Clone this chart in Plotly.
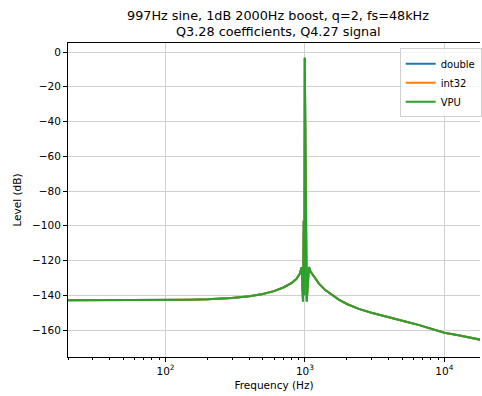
import math
import plotly.graph_objects as go

# ---- data ----
freq_hz = [20, 30, 50, 70, 100, 150, 200, 250, 300, 400, 500, 600, 700, 800, 870, 920,
           947, 968, 980, 990, 997, 1030, 1068, 1100, 1150, 1260, 1400, 1600, 1750, 2000,
           2430, 3000, 3380, 4000, 4690, 5500, 6510, 8070, 10000, 12600, 15000, 18000, 24000]
level_db = [-142.8, -142.8, -142.7, -142.7, -142.6, -142.5, -142.3, -142.0, -141.5, -140.5,
            -139.2, -137.6, -135.5, -133.0, -130.5, -127.5,
            -123.8, -143.5, -97.0, -140.0, -3.3, -143.5, -123.8, -126.5, -128.8, -133.3,
            -137.0, -140.5, -142.5, -145.0,
            -147.8, -150.0, -151.0, -152.5, -154.0, -155.5, -157.0, -159.3, -161.5, -163.0,
            -164.2, -165.5, -167.5]

series_names = ["double", "int32", "VPU"]
series_colors = ["#1f77b4", "#ff7f0e", "#2ca02c"]

x_major = [100, 1000, 10000]
x_major_text = ["10<sup>2</sup>", "10<sup>3</sup>", "10<sup>4</sup>"]
x_minor = [20, 30, 40, 50, 60, 70, 80, 90,
           200, 300, 400, 500, 600, 700, 800, 900,
           2000, 3000, 4000, 5000, 6000, 7000, 8000, 9000, 20000]
y_ticks = [0, -20, -40, -60, -80, -100, -120, -140, -160]

title_lines = ["997Hz sine, 1dB 2000Hz boost, q=2, fs=48kHz", "Q3.28 coefficients, Q4.27 signal"]

FONT = "DejaVu Sans"

fig = go.Figure()
for name, color in zip(series_names, series_colors):
    fig.add_trace(go.Scatter(x=freq_hz, y=level_db, mode="lines", name=name,
                             line=dict(color=color, width=2)))

# title lines as centred annotations above the axes
for text, ypos in zip(title_lines, [1.089, 1.038]):
    fig.add_annotation(text=text, xref="paper", yref="paper", x=0.51, y=ypos,
                       xanchor="center", yanchor="middle", showarrow=False,
                       font=dict(family=FONT, size=12.8, color="black"))

fig.update_layout(
    width=482, height=396,
    margin=dict(l=68, r=0, t=43, b=39),
    paper_bgcolor="white", plot_bgcolor="white",
    font=dict(family=FONT, size=10, color="black"),
    legend=dict(x=0.805, y=0.983, xanchor="left", yanchor="top",
                bgcolor="rgba(255,255,255,0.8)", bordercolor="#d0d0d0", borderwidth=1,
                font=dict(family=FONT, size=10, color="black"),
                tracegroupgap=0, itemwidth=30),
    showlegend=True,
)

fig.update_xaxes(
    type="log", range=[math.log10(20), math.log10(18000)],
    tickmode="array", tickvals=x_major, ticktext=x_major_text,
    ticks="outside", ticklen=4, tickcolor="black", tickwidth=1,
    showline=True, linecolor="black", linewidth=1, mirror=True,
    showgrid=True, gridcolor="#d0d0d0", gridwidth=1, zeroline=False,
    minor=dict(tickmode="array", tickvals=x_minor, ticks="outside", ticklen=2,
               tickcolor="black", tickwidth=1, showgrid=False),
    title=dict(text="Frequency (Hz)", font=dict(family=FONT, size=10.5), standoff=6),
    tickfont=dict(family=FONT, size=10.5),
)
fig.update_yaxes(
    range=[-175.5, 5.2],
    tickmode="array", tickvals=y_ticks,
    ticks="outside", ticklen=4, tickcolor="black", tickwidth=1,
    showline=True, linecolor="black", linewidth=1, mirror=False,
    showgrid=True, gridcolor="#d0d0d0", gridwidth=1, zeroline=False,
    title=dict(text="Level (dB)", font=dict(family=FONT, size=10.5), standoff=8),
    tickfont=dict(family=FONT, size=10.5),
)

fig.write_html("out.html")
